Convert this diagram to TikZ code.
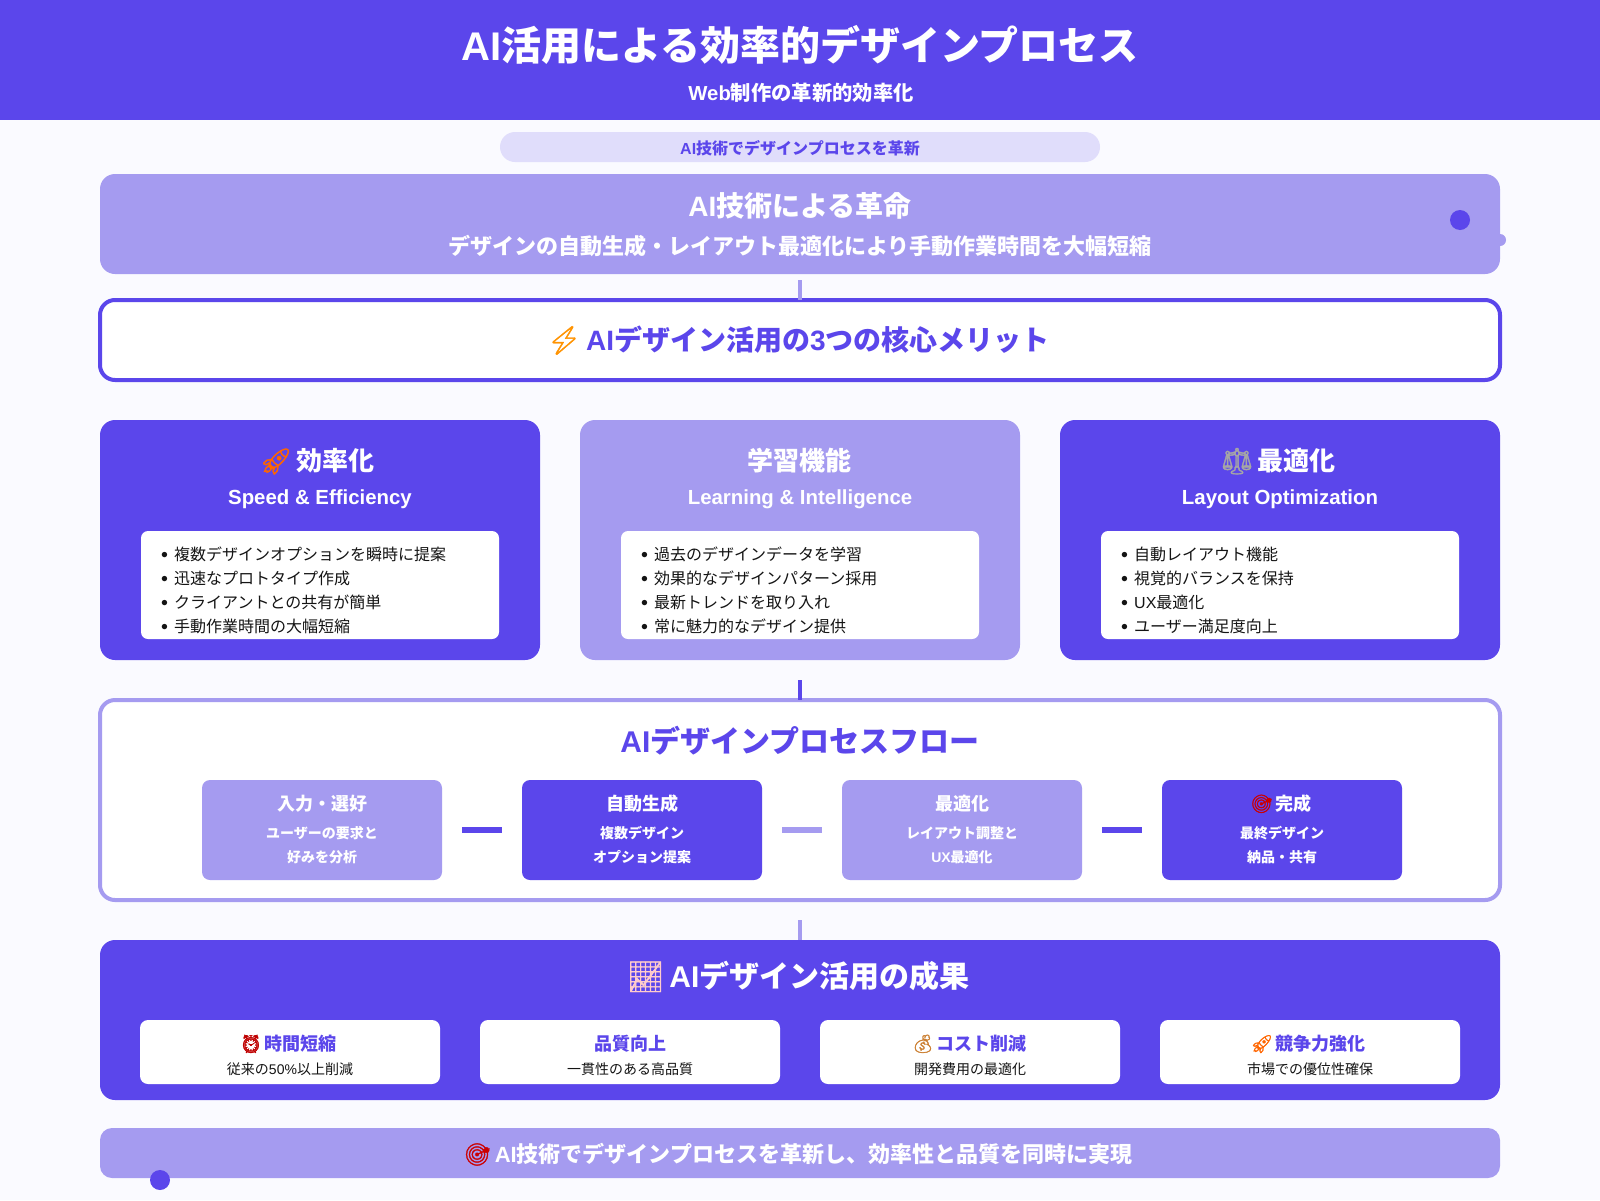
\documentclass[tikz,border=0pt]{standalone}
\usepackage{fontspec}
\usepackage{graphicx}
\setmainfont{Noto Sans CJK JP}
\newfontfamily\latfont{Liberation Sans}
\newfontfamily\emojifont[FakeBold=1.5]{Noto Emoji}
\definecolor{primario}{HTML}{5B46EB}
\definecolor{secondo}{HTML}{A59BF0}
\definecolor{pillola}{HTML}{E0DDFB}
\definecolor{sfondo}{HTML}{FAFAFF}
\definecolor{inchiostro}{HTML}{141414}
\newcommand{\lat}[1]{{\latfont #1}}
\newcommand{\emo}[2]{{\mdseries\emojifont\textcolor{#1}{#2}}\hspace{-2pt}}
\newcommand{\itm}{\makebox[13pt][l]{\raisebox{1.5pt}{\scalebox{.8}{$\bullet$}}}}
\newcommand{\sz}[1]{\fontsize{#1}{#1}\selectfont}
\tikzset{
  panel/.style={rectangle, inner sep=0pt, outer sep=0pt},
  bigcard/.style={panel, minimum width=440pt, minimum height=240pt, rounded corners=15pt},
  listbox/.style={panel, fill=white, minimum width=358pt, minimum height=108pt, rounded corners=7pt},
  stepbox/.style={panel, minimum width=240pt, minimum height=100pt, rounded corners=8pt},
  resbox/.style={panel, fill=white, minimum width=300pt, minimum height=64pt, rounded corners=8pt},
  lab/.style={inner sep=0pt, anchor=base, text=white, font=\bfseries},
  listtext/.style={inner sep=0pt, anchor=base west, text=inchiostro, font=\sz{16}},
  stub/.style={line width=4pt},
  link/.style={line width=6pt},
  dot/.style={circle, inner sep=0pt, outer sep=0pt, fill=primario, minimum size=20pt}
}

\begin{document}
\begin{tikzpicture}[x=1pt,y=-1pt]
\useasboundingbox (0,0) rectangle (1600,1200);
\fill[sfondo] (0,0) rectangle (1600,1200); % fondo

% Testata
\node[panel, fill=primario, minimum width=1600pt, minimum height=120pt] (header) at (800,60) {};
\node[lab, font=\sz{40}\bfseries] (maintitle) at (800,60) {\lat{AI}活用による効率的デザインプロセス};
\node[lab, font=\sz{20.3}\bfseries] (subtitle) at (801,100) {\lat{Web}制作の革新的効率化};

% Pillola
\node[panel, fill=pillola, minimum width=600pt, minimum height=30pt, rounded corners=15pt] (pill) at (800,147) {};
\node[lab, text=primario, font=\sz{16}\bfseries] (pilltext) at (800,154) {\lat{AI}技術でデザインプロセスを革新};

% Riquadro AI
\node[panel, fill=secondo, minimum width=1400pt, minimum height=100pt, rounded corners=15pt] (hero) at (800,224) {};
\node[lab, font=\sz{28}\bfseries] (herotitle) at (800,216) {\lat{AI}技術による革命};
\node[lab, font=\sz{22}\bfseries] (herotext) at (800,254) {デザインの自動生成・レイアウト最適化により手動作業時間を大幅短縮};
\node[dot] (herodot) at (1460,220) {};
\node[dot, fill=secondo, minimum size=12pt] (edgedot) at (1500,240) {};

% Tre meriti
\node[panel, draw=primario, line width=4pt, fill=white, minimum width=1400pt, minimum height=80pt, rounded corners=15pt] (merit) at (800,340) {};
\node[lab, text=primario, font=\sz{28}\bfseries] (merittext) at (798,350) {\emo{orange!85!yellow}{⚡} \lat{AI}デザイン活用の\lat{3}つの核心メリット};
\draw[stub, secondo] ([yshift=-6pt]hero.south) -- (merit.north); % primo tratto

% Carta 1
\node[bigcard, fill=primario] (cardA) at (320,540) {};
\node[lab, font=\sz{26}\bfseries] (cardAtitle) at (317,470) {\emo{orange!80!red}{🚀} 効率化};
\node[lab, font=\sz{20.4}\bfseries\latfont] (cardAsub) at (320,504) {Speed \& Efficiency};
\node[listbox] (listA) at (320,585) {};
\node[listtext] (itemA1) at (161,560) {\itm 複数デザインオプションを瞬時に提案};
\node[listtext] (itemA2) at (161,584) {\itm 迅速なプロトタイプ作成};
\node[listtext] (itemA3) at (161,608) {\itm クライアントとの共有が簡単};
\node[listtext] (itemA4) at (161,632) {\itm 手動作業時間の大幅短縮};

% Carta 2
\node[bigcard, fill=secondo] (cardB) at (800,540) {};
\node[lab, font=\sz{26}\bfseries] (cardBtitle) at (799,470) {学習機能};
\node[lab, font=\sz{20.4}\bfseries\latfont] (cardBsub) at (800,504) {Learning \& Intelligence};
\node[listbox] (listB) at (800,585) {};
\node[listtext] (itemB1) at (641,560) {\itm 過去のデザインデータを学習};
\node[listtext] (itemB2) at (641,584) {\itm 効果的なデザインパターン採用};
\node[listtext] (itemB3) at (641,608) {\itm 最新トレンドを取り入れ};
\node[listtext] (itemB4) at (641,632) {\itm 常に魅力的なデザイン提供};

% Carta 3
\node[bigcard, fill=primario] (cardC) at (1280,540) {};
\node[lab, font=\sz{26}\bfseries] (cardCtitle) at (1278,470) {\emo{gray!70}{⚖} 最適化};
\node[lab, font=\sz{20.4}\bfseries\latfont] (cardCsub) at (1280,504) {Layout Optimization};
\node[listbox] (listC) at (1280,585) {};
\node[listtext] (itemC1) at (1121,560) {\itm 自動レイアウト機能};
\node[listtext] (itemC2) at (1121,584) {\itm 視覚的バランスを保持};
\node[listtext] (itemC3) at (1121,608) {\itm \lat{UX}最適化};
\node[listtext] (itemC4) at (1121,632) {\itm ユーザー満足度向上};

% Flusso
\node[panel, draw=secondo, line width=4pt, fill=white, minimum width=1400pt, minimum height=200pt, rounded corners=15pt] (flow) at (800,800) {};
\node[lab, text=primario, font=\sz{30}\bfseries] (flowtitle) at (800,752) {\lat{AI}デザインプロセスフロー};
\draw[stub, primario] ([yshift=-20pt]cardB.south) -- (flow.north);

\node[stepbox, fill=secondo] (stepA) at (322,830) {};
\node[stepbox, fill=primario] (stepB) at (642,830) {};
\node[stepbox, fill=secondo] (stepC) at (962,830) {};
\node[stepbox, fill=primario] (stepD) at (1282,830) {};
\draw[link, primario] ([xshift=20pt]stepA.east) -- ([xshift=-20pt]stepB.west);
\draw[link, secondo] ([xshift=20pt]stepB.east) -- ([xshift=-20pt]stepC.west);
\draw[link, primario] ([xshift=20pt]stepC.east) -- ([xshift=-20pt]stepD.west);

\node[lab, font=\sz{18}\bfseries] (stepAtitle) at (322,810) {入力・選好};
\node[lab, font=\sz{14}\bfseries] (stepAone) at (322,838) {ユーザーの要求と};
\node[lab, font=\sz{14}\bfseries] (stepAtwo) at (322,862) {好みを分析};
\node[lab, font=\sz{18}\bfseries] (stepBtitle) at (642,810) {自動生成};
\node[lab, font=\sz{14}\bfseries] (stepBone) at (642,838) {複数デザイン};
\node[lab, font=\sz{14}\bfseries] (stepBtwo) at (642,862) {オプション提案};
\node[lab, font=\sz{18}\bfseries] (stepCtitle) at (962,810) {最適化};
\node[lab, font=\sz{14}\bfseries] (stepCone) at (962,838) {レイアウト調整と};
\node[lab, font=\sz{14}\bfseries] (stepCtwo) at (962,862) {\lat{UX}最適化};
\node[lab, font=\sz{18}\bfseries] (stepDtitle) at (1281,810) {\emo{red!80!black}{🎯} 完成};
\node[lab, font=\sz{14}\bfseries] (stepDone) at (1282,838) {最終デザイン};
\node[lab, font=\sz{14}\bfseries] (stepDtwo) at (1282,862) {納品・共有};

% Risultati
\node[panel, fill=primario, minimum width=1400pt, minimum height=160pt, rounded corners=15pt] (results) at (800,1020) {};
\node[lab, font=\sz{30}\bfseries] (restitle) at (798,987) {\emo{red!20!white}{📈} \lat{AI}デザイン活用の成果};
\draw[stub, secondo] ([yshift=-20pt]flow.south) -- (results.north);

\node[resbox] (resA) at (290,1052) {};
\node[resbox] (resB) at (630,1052) {};
\node[resbox] (resC) at (970,1052) {};
\node[resbox] (resD) at (1310,1052) {};
\node[lab, text=primario, font=\sz{18}\bfseries] (resAtitle) at (288,1050) {\emo{red!75!black}{⏰} 時間短縮};
\node[lab, text=inchiostro, font=\sz{14}] (resAtext) at (290,1074) {従来の\lat{50\%}以上削減};
\node[lab, text=primario, font=\sz{18}\bfseries] (resBtitle) at (630,1050) {品質向上};
\node[lab, text=inchiostro, font=\sz{14}] (resBtext) at (630,1074) {一貫性のある高品質};
\node[lab, text=primario, font=\sz{18}\bfseries] (resCtitle) at (969,1050) {\emo{brown!80!orange}{💰} コスト削減};
\node[lab, text=inchiostro, font=\sz{14}] (resCtext) at (970,1074) {開発費用の最適化};
\node[lab, text=primario, font=\sz{18}\bfseries] (resDtitle) at (1308,1050) {\emo{orange!80!red}{🚀} 競争力強化};
\node[lab, text=inchiostro, font=\sz{14}] (resDtext) at (1310,1074) {市場での優位性確保};

% Barra finale
\node[panel, fill=secondo, minimum width=1400pt, minimum height=50pt, rounded corners=12pt] (footbar) at (800,1153) {};
\node[lab, font=\sz{22}\bfseries] (foottext) at (798,1162) {\emo{red!80!black}{🎯} \lat{AI}技術でデザインプロセスを革新し、効率性と品質を同時に実現};
\node[dot] (footdot) at (160,1180) {};

\end{tikzpicture}
\end{document}
